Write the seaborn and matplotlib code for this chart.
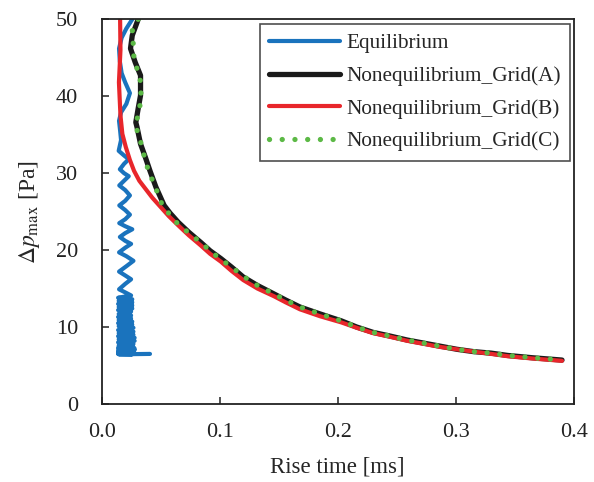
import pandas as pd
import matplotlib
matplotlib.use("Agg")
import matplotlib.pyplot as plt
import seaborn as sns

# Equilibrium (oscillating near the axis, dense towards the bottom)
eq_x = [0.026, 0.021, 0.017, 0.0148, 0.0155, 0.017, 0.020, 0.024, 0.021, 0.0165, 0.0148, 0.0158, 0.0165,
        0.0145, 0.019, 0.023, 0.019, 0.0155, 0.019, 0.023, 0.019, 0.015, 0.020, 0.024, 0.020, 0.015,
        0.020, 0.024, 0.020, 0.015, 0.020,
        0.026, 0.020, 0.0155, 0.020, 0.025, 0.020, 0.0148, 0.021, 0.027, 0.021, 0.0148, 0.020, 0.025,
        0.020, 0.0148, 0.020, 0.025,
        0.014, 0.026, 0.0145, 0.026, 0.014, 0.026, 0.0145, 0.026, 0.014, 0.025,
        0.0145, 0.025, 0.014, 0.025, 0.0145, 0.026, 0.014, 0.026, 0.0145, 0.027,
        0.014, 0.027, 0.0145, 0.027, 0.014, 0.028, 0.0145, 0.028, 0.014, 0.027,
        0.0145, 0.027, 0.014, 0.028, 0.0145, 0.028, 0.014, 0.027, 0.0145, 0.027,
        0.014, 0.027, 0.0145, 0.026, 0.014, 0.026, 0.0145, 0.041]
eq_y = [50.0, 48.8, 47.6, 46.2, 44.5, 43.0, 41.8, 40.4, 39.0, 37.9, 36.8, 35.4, 34.3,
        32.9, 32.3, 31.8, 31.2, 30.5, 30.0, 29.6, 29.0, 28.4, 27.8, 27.1, 26.4, 25.8,
        25.2, 24.6, 24.0, 23.5, 23.1,
        22.7, 22.2, 21.7, 21.2, 20.8, 20.3, 19.7, 19.2, 18.6, 17.9, 17.2, 16.7, 16.2,
        15.6, 14.9, 14.5, 14.1,
        13.8, 13.6, 13.4, 13.2, 13.0, 12.8, 12.6, 12.4, 12.2, 12.0,
        11.7, 11.5, 11.3, 11.1, 10.9, 10.7, 10.5, 10.3, 10.1, 9.9,
        9.6, 9.4, 9.2, 9.0, 8.8, 8.6, 8.4, 8.2, 8.0, 7.8,
        7.6, 7.4, 7.3, 7.2, 7.1, 7.0, 6.9, 6.8, 6.75, 6.7,
        6.65, 6.6, 6.55, 6.5, 6.5, 6.45, 6.45, 6.5]

# Nonequilibrium Grid(A)
a_x = [0.031, 0.026, 0.0245, 0.0285, 0.033, 0.033, 0.031, 0.029, 0.030, 0.033, 0.037, 0.041, 0.046, 0.053,
       0.058, 0.065, 0.074, 0.084, 0.092, 0.101, 0.110, 0.120, 0.132, 0.146, 0.156, 0.168, 0.185, 0.203,
       0.216, 0.230, 0.245, 0.259, 0.273, 0.287, 0.301, 0.315, 0.330, 0.344, 0.365, 0.390]
a_y = [50.0, 47.9, 46.2, 44.4, 42.7, 40.1, 38.4, 36.6, 36.0, 33.8, 32.1, 30.3, 28.2, 25.8,
       24.8, 23.6, 22.3, 21.0, 19.9, 18.9, 17.8, 16.5, 15.4, 14.3, 13.5, 12.6, 11.7, 10.8,
       10.0, 9.3, 8.8, 8.3, 7.9, 7.5, 7.1, 6.8, 6.6, 6.3, 6.0, 5.7]

# Nonequilibrium Grid(B)
b_x = [0.0157, 0.016, 0.0147, 0.016, 0.0176, 0.0205, 0.024, 0.0275, 0.032, 0.037, 0.043, 0.050, 0.057,
       0.065, 0.074, 0.084, 0.092, 0.101, 0.110, 0.120, 0.132, 0.146, 0.156, 0.168, 0.185, 0.203,
       0.216, 0.230, 0.245, 0.259, 0.273, 0.287, 0.301, 0.315, 0.330, 0.344, 0.365, 0.390]
b_y = [50.0, 46.0, 41.8, 37.5, 35.1, 33.4, 31.7, 30.3, 29.0, 28.0, 26.8, 25.6, 24.4,
       23.2, 21.9, 20.6, 19.5, 18.5, 17.3, 16.1, 15.0, 14.0, 13.2, 12.3, 11.4, 10.6,
       9.9, 9.2, 8.7, 8.2, 7.8, 7.4, 7.1, 6.8, 6.5, 6.2, 5.9, 5.6]

# Nonequilibrium Grid(C)
c_x = [0.031, 0.026, 0.027, 0.0275, 0.0325, 0.0335, 0.032, 0.029, 0.030, 0.034, 0.037, 0.040, 0.046, 0.052,
       0.058, 0.064, 0.074, 0.084, 0.092, 0.100, 0.110, 0.121, 0.132, 0.146, 0.156, 0.168, 0.185, 0.203,
       0.216, 0.230, 0.245, 0.259, 0.273, 0.287, 0.301, 0.315, 0.330, 0.344, 0.365, 0.390]
c_y = [50.0, 48.5, 46.4, 44.6, 42.6, 40.0, 38.2, 36.4, 35.6, 33.6, 31.6, 30.2, 28.0, 25.6,
       24.6, 23.5, 22.2, 21.0, 19.9, 18.9, 17.8, 16.5, 15.4, 14.3, 13.5, 12.6, 11.7, 10.8,
       10.0, 9.3, 8.8, 8.3, 7.9, 7.5, 7.1, 6.8, 6.6, 6.3, 6.0, 5.7]

sns.set_style("ticks")
plt.rcParams['font.family'] = ['Liberation Serif', 'DejaVu Serif']
plt.rcParams['mathtext.fontset'] = 'stix'

fig = plt.figure(figsize=(5.94, 4.82), dpi=100)
ax = fig.add_axes([0.171, 0.162, 0.795, 0.798])

series = [
    ('Equilibrium', eq_x, eq_y, dict(color='#1a73bd', linewidth=3.0, solid_joinstyle='round')),
    ('Nonequilibrium_Grid(A)', a_x, a_y, dict(color='#1a1a1a', linewidth=3.8, solid_joinstyle='round')),
    ('Nonequilibrium_Grid(B)', b_x, b_y, dict(color='#e8262b', linewidth=3.0, solid_joinstyle='round')),
    ('Nonequilibrium_Grid(C)', c_x, c_y, dict(color='#5cb946', linewidth=3.8,
                                              linestyle=(0, (0.01, 2.4)), dash_capstyle='round')),
]
for name, xs, ys, style in series:
    df = pd.DataFrame({'x': xs, 'y': ys})
    sns.lineplot(data=df, x='x', y='y', sort=False, estimator=None, ax=ax, label=name, **style)

ax.set_xlim(0, 0.4)
ax.set_ylim(0, 50)
ax.set_xticks([0.0, 0.1, 0.2, 0.3, 0.4])
ax.set_xticklabels(['0.0', '0.1', '0.2', '0.3', '0.4'])
ax.set_yticks([0, 10, 20, 30, 40, 50])
ax.tick_params(direction='in', length=5, width=1.1, labelsize=16, top=False, right=False,
               colors='#222222')
ax.tick_params(axis='y', pad=17)
ax.tick_params(axis='x', pad=14)
for sp in ax.spines.values():
    sp.set_linewidth(1.3)
    sp.set_color('#222222')
    sp.set_visible(True)

ax.set_xlabel('Rise time [ms]', fontsize=16.5, labelpad=10)
ax.set_ylabel(r'$\Delta p_{\mathrm{max}}$ [Pa]', fontsize=17, labelpad=10)

leg = ax.legend(loc='upper right', bbox_to_anchor=(0.992, 0.988), borderaxespad=0,
                fontsize=15.3, frameon=True, fancybox=False, edgecolor='#222222',
                handlelength=3.3, handletextpad=0.3, labelspacing=0.6, borderpad=0.45)
leg.get_frame().set_linewidth(1.2)

fig.savefig('out.png', dpi=100)
